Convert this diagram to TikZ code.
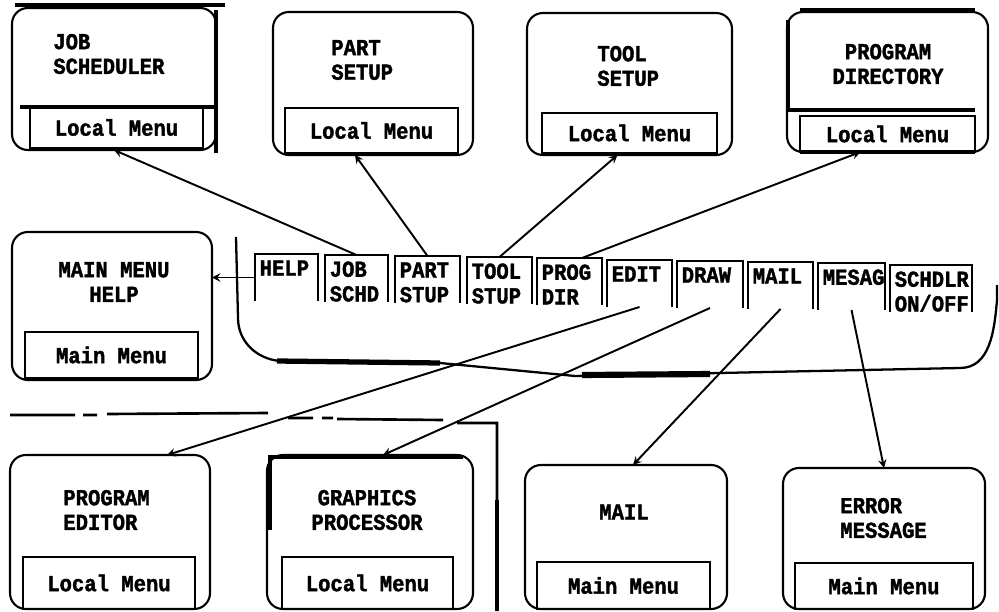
\documentclass[tikz,border=0pt]{standalone}
\usepackage{fontspec}
\setmonofont{Liberation Mono}[FakeStretch=0.9, BoldFeatures={FakeBold=1.6}]
\begin{document}
\begin{tikzpicture}[>=stealth, x=0.02cm, y=-0.02cm,
    screen/.style={draw, line width=1.2pt, rounded corners=9pt, inner sep=0pt, outer sep=0pt},
    menubox/.style={draw, line width=1.1pt, inner sep=0pt, outer sep=0pt, font=\fontsize{13}{14}\selectfont\ttfamily\bfseries},
    title/.style={inner sep=0pt, font=\fontsize{13}{14}\selectfont\ttfamily\bfseries},
    keybox/.style={anchor=north west, minimum height=0.94cm, inner sep=0pt, outer sep=0pt},
    keytext/.style={anchor=north west, align=left, inner xsep=2.5pt, inner ysep=3.5pt, font=\fontsize{13}{14}\selectfont\ttfamily\bfseries},
    conn/.style={->, line width=1.1pt},
    heavy/.style={line width=2.4pt}]
    \useasboundingbox (0,0) rectangle (999,611);

    % screens, top row
    \node[screen, minimum width=4.08cm, minimum height=2.84cm] (job) at (114,79) {};
    \node[menubox, minimum width=3.46cm, minimum height=0.82cm] (job-m) at (116.5,127.5) {Local Menu};
    \node[title, anchor=west, align=left] (job-t) at (53,54) {JOB\\SCHEDULER};

    \node[screen, minimum width=4.0cm, minimum height=2.86cm] (part) at (373,83.5) {};
    \node[menubox, minimum width=3.46cm, minimum height=0.9cm] (part-m) at (371.5,130.5) {Local Menu};
    \node[title, anchor=west, align=left] (part-t) at (331,60) {PART\\SETUP};

    \node[screen, minimum width=4.1cm, minimum height=2.84cm] (tool) at (629.5,84) {};
    \node[menubox, minimum width=3.5cm, minimum height=0.8cm] (tool-m) at (629.5,133) {Local Menu};
    \node[title, anchor=west, align=left] (tool-t) at (597,66) {TOOL\\SETUP};

    \node[screen, minimum width=4.02cm, minimum height=2.8cm] (pdir) at (887.5,82) {};
    \node[menubox, minimum width=3.5cm, minimum height=0.72cm] (pdir-m) at (887.5,134) {Local Menu};
    \node[title, align=center] (pdir-t) at (888,64) {PROGRAM\\DIRECTORY};

    % main menu screen
    \node[screen, minimum width=4.0cm, minimum height=2.96cm] (mmh) at (112,306) {};
    \node[menubox, minimum width=3.46cm, minimum height=0.92cm] (mmh-m) at (111.5,355) {Main Menu};
    \node[title, align=center] (mmh-t) at (114,282) {MAIN MENU\\HELP};

    % screens, bottom row
    \node[screen, minimum width=4.0cm, minimum height=3.08cm] (pedt) at (110,532) {};
    \node[menubox, minimum width=3.44cm, minimum height=1.04cm] (pedt-m) at (109,583) {Local Menu};
    \node[title, anchor=west, align=left] (pedt-t) at (63,510) {PROGRAM\\EDITOR};

    \node[screen, minimum width=4.12cm, minimum height=3.08cm] (gfx) at (370,532) {};
    \node[menubox, minimum width=3.42cm, minimum height=1.04cm] (gfx-m) at (367.5,583) {Local Menu};
    \node[title, align=center] (gfx-t) at (367,510) {GRAPHICS\\PROCESSOR};

    \node[screen, minimum width=4.04cm, minimum height=2.88cm] (mail) at (626,537) {};
    \node[menubox, minimum width=3.46cm, minimum height=0.94cm] (mail-m) at (623.5,585.5) {Main Menu};
    \node[title] (mail-t) at (624,512) {MAIL};

    \node[screen, minimum width=4.04cm, minimum height=2.82cm] (err) at (884,538.5) {};
    \node[menubox, minimum width=3.56cm, minimum height=0.92cm] (err-m) at (884,586) {Main Menu};
    \node[title, anchor=west, align=left] (err-t) at (840,518) {ERROR\\MESSAGE};

    % heavy edges of the copy
    \draw[heavy] (15,5) -- (225,5) (216,10) -- (216,153) (20,107) -- (215,107);
    \draw[heavy] (800,10) -- (975,10) (788,20) -- (788,110) -- (975,110) (800,152) -- (975,152);
    \draw[heavy] (270,530) -- (270,457) -- (463,457);

    % keyboard
    \draw[line width=1.3pt] (236,237) -- (238,318) to[out=-90,in=175] (280,361) -- (440,363) -- (575,376)
        -- (960,368) to[out=0,in=-95] (997,300) -- (997,285);
    \draw[line width=3pt] (277,361) -- (440,363);
    \draw[line width=3.5pt] (582,375) -- (710,374);

    \foreach \n/\x/\y/\w/\t in {help/255/254/63/HELP, job/325/255/63/{JOB\\SCHD},
        part/395/256/65/{PART\\STUP}, tool/467/257/65/{TOOL\\STUP}, prog/537/258/65/{PROG\\DIR},
        edit/607/260/65/EDIT, draw/677/261/66/DRAW, mail/748/262/65/MAIL,
        mesg/818/263/67/MESAG, schd/890/265/82/{SCHDLR\\ON/OFF}} {
        \node[keybox, minimum width=\w*0.02cm] (k-\n) at (\x,\y) {};
        \draw[line width=1.1pt] (k-\n.south west) |- (k-\n.north east) -- (k-\n.south east);
        \node[keytext] (k-\n-t) at (k-\n.north west) {\t};
    }

    % border of the lower half
    \draw[line width=1.5pt] (10,415) -- (75,415) (83,415) -- (97,415) (107,414) -- (268,413)
        (288,418) -- (313,418) (322,418) -- (333,418) (337,419) -- (443,420) (457,423) -| (497,611);
    \draw[heavy] (497,500) -- (497,611);

    % connectors
    \draw[conn] (k-help.west) -- (k-help.west -| mmh.east);
    \draw[conn] (k-job.north) -- (job.south);
    \draw[conn] (k-part.north) -- ([xshift=-0.36cm]part.south);
    \draw[conn] (k-tool.north) -- ([xshift=-0.24cm]tool.south);
    \draw[conn] ([xshift=0.25cm]k-prog.north) -- ([xshift=-0.54cm]pdir.south);
    \draw[conn] (k-edit.south) -- ([xshift=1.14cm]pedt.north);
    \draw[conn] (k-draw.south) -- ([xshift=0.26cm]gfx.north);
    \draw[conn] (k-mail.south) -- ([xshift=0.14cm]mail.north);
    \draw[conn] (k-mesg.south) -- (err.north);
\end{tikzpicture}
\end{document}
